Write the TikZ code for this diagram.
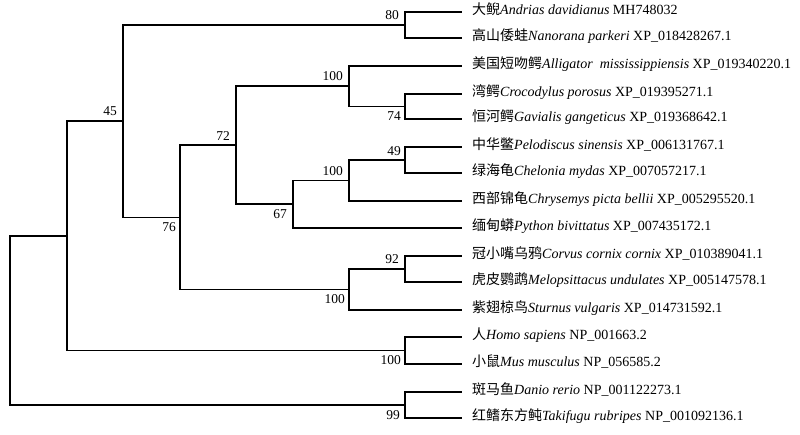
\documentclass[tikz,border=0pt]{standalone}
\usepackage{fontspec}
\setmainfont{Liberation Serif}
\newfontfamily\cjk{Noto Sans CJK SC}
\begin{document}
\begin{tikzpicture}[x=1pt,y=-1pt,
  br/.style={line width=1.7pt,line join=miter},
  leaf/.style={anchor=west,inner sep=0pt,text height=0.75em,text depth=0.2em,font=\fontsize{14}{16}\selectfont},
  bsa/.style={anchor=south east,inner sep=0pt,font=\fontsize{13.5}{16}\selectfont},
  bsb/.style={anchor=north east,inner sep=0pt,font=\fontsize{13.5}{16}\selectfont}]
\useasboundingbox (0,0) rectangle (800,434);
% internal nodes
\coordinate (R) at (10,320.4);
\coordinate (A) at (67,235.8);
\coordinate (B) at (123,121.2);
\coordinate (C) at (180,217.4);
\coordinate (N72) at (236,145.2);
\coordinate (Cr) at (349,86.2);
\coordinate (N74) at (405,106.5);
\coordinate (N67) at (293,204.2);
\coordinate (T) at (349,180.5);
\coordinate (N49) at (405,160);
\coordinate (N80) at (405,25);
\coordinate (Bd) at (349,289.5);
\coordinate (N92) at (405,269);
\coordinate (M) at (405,350.5);
\coordinate (F) at (405,405);
% tips
\foreach \i/\y in {1/12,2/38,3/66,4/94,5/119,6/147,7/173,8/201,9/228,10/256,11/282,12/310,13/337,14/364,15/392,16/418}
  \coordinate (t\i) at (462,\y);
% labels
\node[leaf] (L1) at (472,12) {{\cjk 大鲵}\textit{Andrias davidianus} MH748032};
\node[leaf] (L2) at (472,38) {{\cjk 高山倭蛙}\textit{Nanorana parkeri} XP\_018428267.1};
\node[leaf] (L3) at (472,66) {{\cjk 美国短吻鳄}\textit{Alligator\ \ mississippiensis} XP\_019340220.1};
\node[leaf] (L4) at (472,94) {{\cjk 湾鳄}\textit{Crocodylus porosus} XP\_019395271.1};
\node[leaf] (L5) at (472,119) {{\cjk 恒河鳄}\textit{Gavialis gangeticus} XP\_019368642.1};
\node[leaf] (L6) at (472,147) {{\cjk 中华鳖}\textit{Pelodiscus sinensis} XP\_006131767.1};
\node[leaf] (L7) at (472,173) {{\cjk 绿海龟}\textit{Chelonia mydas} XP\_007057217.1};
\node[leaf] (L8) at (472,201) {{\cjk 西部锦龟}\textit{Chrysemys picta bellii} XP\_005295520.1};
\node[leaf] (L9) at (472,228) {{\cjk 缅甸蟒}\textit{Python bivittatus} XP\_007435172.1};
\node[leaf] (L10) at (472,256) {{\cjk 冠小嘴乌鸦}\textit{Corvus cornix cornix} XP\_010389041.1};
\node[leaf] (L11) at (472,282) {{\cjk 虎皮鹦鹉}\textit{Melopsittacus undulates} XP\_005147578.1};
\node[leaf] (L12) at (472,310) {{\cjk 紫翅椋鸟}\textit{Sturnus vulgaris} XP\_014731592.1};
\node[leaf] (L13) at (472,337) {{\cjk 人}\textit{Homo sapiens} NP\_001663.2};
\node[leaf] (L14) at (472,364) {{\cjk 小鼠}\textit{Mus musculus} NP\_056585.2};
\node[leaf] (L15) at (472,392) {{\cjk 斑马鱼}\textit{Danio rerio} NP\_001122273.1};
\node[leaf] (L16) at (472,418) {{\cjk 红鳍东方鲀}\textit{Takifugu rubripes} NP\_001092136.1};
% branches
\draw[br] (R) |- (A);
\draw[br] (R) |- (F);
\draw[br] (A) |- (B);
\draw[br] (A) |- (M);
\draw[br] (B) |- (N80);
\draw[br] (B) |- (C);
\draw[br] (C) |- (N72);
\draw[br] (C) |- (Bd);
\draw[br] (N72) |- (Cr);
\draw[br] (N72) |- (N67);
\draw[br] (Cr) |- (t3);
\draw[br] (Cr) |- (N74);
\draw[br] (N74) |- (t4);
\draw[br] (N74) |- (t5);
\draw[br] (N67) |- (T);
\draw[br] (N67) |- (t9);
\draw[br] (T) |- (N49);
\draw[br] (T) |- (t8);
\draw[br] (N49) |- (t6);
\draw[br] (N49) |- (t7);
\draw[br] (N80) |- (t1);
\draw[br] (N80) |- (t2);
\draw[br] (Bd) |- (N92);
\draw[br] (Bd) |- (t12);
\draw[br] (N92) |- (t10);
\draw[br] (N92) |- (t11);
\draw[br] (M) |- (t13);
\draw[br] (M) |- (t14);
\draw[br] (F) |- (t15);
\draw[br] (F) |- (t16);
% bootstrap values
\node[bsa] (s80) at ([xshift=-6pt,yshift=5pt]N80) {80};
\node[bsb] (s74) at ([xshift=-4pt,yshift=-5pt]N74) {74};
\node[bsa] (s100a) at ([xshift=-6pt,yshift=5pt]Cr) {100};
\node[bsa] (s45) at ([xshift=-6pt,yshift=5pt]B) {45};
\node[bsa] (s72) at ([xshift=-6pt,yshift=5pt]N72) {72};
\node[bsa] (s100b) at ([xshift=-6pt,yshift=5pt]T) {100};
\node[bsa] (s49) at ([xshift=-4pt,yshift=4pt]N49) {49};
\node[bsb] (s67) at ([xshift=-6pt,yshift=-5pt]N67) {67};
\node[bsb] (s76) at ([xshift=-4pt,yshift=-5pt]C) {76};
\node[bsa] (s92) at ([xshift=-6pt,yshift=5pt]N92) {92};
\node[bsb] (s100c) at ([xshift=-4pt,yshift=-5pt]Bd) {100};
\node[bsb] (s100d) at ([xshift=-4pt,yshift=-5pt]M) {100};
\node[bsb] (s99) at ([xshift=-5pt,yshift=-5pt]F) {99};
\end{tikzpicture}
\end{document}
